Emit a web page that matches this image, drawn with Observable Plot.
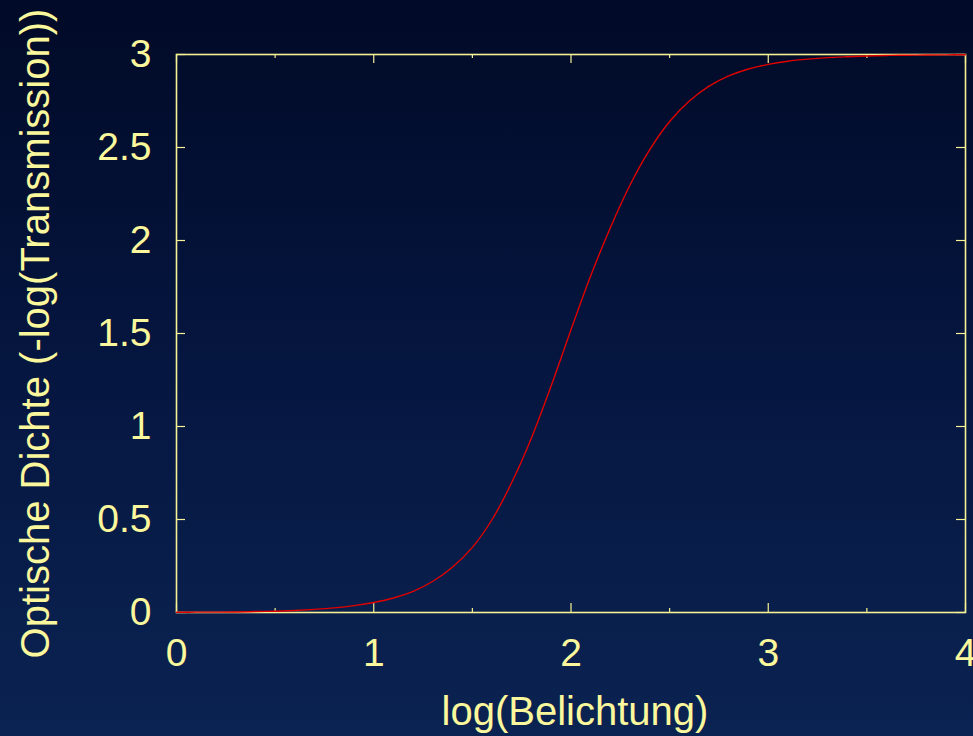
<!DOCTYPE html>
<html>
<head>
<meta charset="utf-8">
<script src="https://cdn.jsdelivr.net/npm/d3@7"></script>
<script src="https://cdn.jsdelivr.net/npm/@observablehq/plot@0.6"></script>
<style>
  html, body { margin: 0; padding: 0; }
  body {
    width: 973px; height: 736px; overflow: hidden;
    background: linear-gradient(to bottom, #010a27 0%, #051640 50%, #0b2352 100%);
  }
</style>
</head>
<body>
<div id="chart"></div>
<script>
// Data
const logExposure = [0.0,0.1,0.2,0.3,0.4,0.5,0.6,0.7,0.8,0.9,1.0,1.1,1.2,1.3,1.4,1.5,1.6,1.7,1.8,1.9,2.0,2.1,2.2,2.3,2.4,2.5,2.6,2.7,2.8,2.9,3.0,3.1,3.2,3.3,3.4,3.5,3.6,3.7,3.8,3.9,4.0];
const opticalDensity = [0.001,0.002,0.002,0.003,0.005,0.007,0.011,0.017,0.025,0.037,0.054,0.078,0.114,0.168,0.245,0.35,0.50,0.70,0.94,1.22,1.52,1.81,2.07,2.30,2.49,2.64,2.75,2.83,2.885,2.922,2.947,2.964,2.975,2.983,2.988,2.992,2.995,2.996,2.997,2.998,2.999];

const xTicks = [0, 1, 2, 3, 4];
const xTickLabels = ["0", "1", "2", "3", "4"];
const xMinorTicks = [0.5, 1.5, 2.5, 3.5];
const yTicks = [0, 0.5, 1, 1.5, 2, 2.5, 3];
const yTickLabels = ["0", "0.5", "1", "1.5", "2", "2.5", "3"];
const xLabel = "log(Belichtung)";
const yLabel = "Optische Dichte (-log(Transmission))";

const curve = logExposure.map((x, i) => ({x, y: opticalDensity[i]}));

const W = 973, H = 736;
const mL = 176, mR = 8, mT = 54, mB = 124;
const fw = W - mL - mR, fh = H - mT - mB;
const major = 9, minor = 4;
const fg = "#f6f294";
const txt = "#fbf79c";

const chart = Plot.plot({
  width: W, height: H,
  marginLeft: mL, marginRight: mR, marginTop: mT, marginBottom: mB,
  style: {background: "transparent", color: txt, fontFamily: "Arial, 'Liberation Sans', Helvetica, sans-serif", fontSize: "39px", overflow: "visible"},
  x: {domain: [0, 4]},
  y: {domain: [0, 3]},
  marks: [
    // inward ticks, mirrored on all four sides
    Plot.ruleX(xTicks, {x: d => d, insetTop: fh - major, stroke: fg, strokeWidth: 1.2}),
    Plot.ruleX(xTicks, {x: d => d, insetBottom: fh - major, stroke: fg, strokeWidth: 1.2}),
    Plot.ruleX(xMinorTicks, {x: d => d, insetTop: fh - minor, stroke: fg, strokeWidth: 1.2}),
    Plot.ruleX(xMinorTicks, {x: d => d, insetBottom: fh - minor, stroke: fg, strokeWidth: 1.2}),
    Plot.ruleY(yTicks, {y: d => d, insetRight: fw - major, stroke: fg, strokeWidth: 1.2}),
    Plot.ruleY(yTicks, {y: d => d, insetLeft: fw - major, stroke: fg, strokeWidth: 1.2}),
    Plot.frame({stroke: fg, strokeWidth: 1.6}),
    Plot.axisX({ticks: xTicks, tickSize: 0, tickPadding: 26, label: null, fill: txt, fontSize: 39,
      tickFormat: d => xTickLabels[xTicks.indexOf(d)]}),
    Plot.axisY({ticks: yTicks, tickSize: 0, tickPadding: 25, label: null, fill: txt, fontSize: 39,
      tickFormat: d => yTickLabels[yTicks.indexOf(d)]}),
    Plot.text([xLabel], {text: d => d, frameAnchor: "bottom", dx: 4, dy: 100, fill: txt, fontSize: 40, lineAnchor: "middle", textAnchor: "middle"}),
    Plot.text([yLabel], {text: d => d, frameAnchor: "left", rotate: -90, dx: -140, dy: 0, fill: txt, fontSize: 40, lineAnchor: "middle", textAnchor: "middle"}),
    Plot.line(curve, {x: "x", y: "y", stroke: "#e00000", strokeWidth: 1.4, curve: "catmull-rom"})
  ]
});
document.getElementById("chart").appendChild(chart);
</script>
</body>
</html>
